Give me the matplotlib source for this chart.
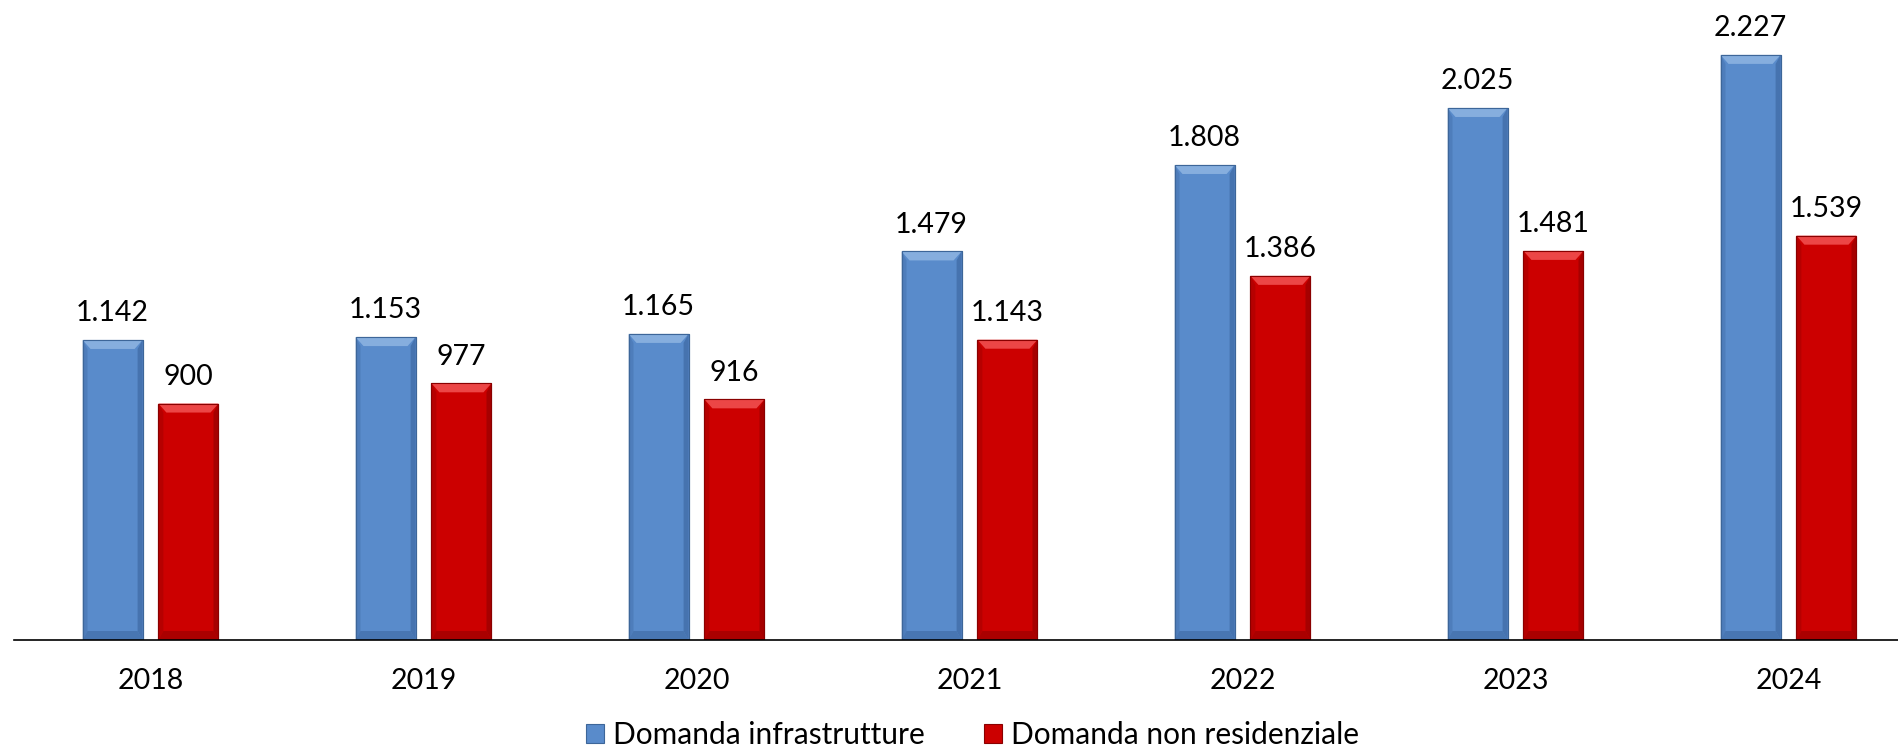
import matplotlib
matplotlib.use("Agg")
import matplotlib.pyplot as plt
from matplotlib.patches import Polygon, Patch
import numpy as np

years = ["2018", "2019", "2020", "2021", "2022", "2023", "2024"]
infrastrutture = [1142, 1153, 1165, 1479, 1808, 2025, 2227]
non_residenziale = [900, 977, 916, 1143, 1386, 1481, 1539]
series_names = ["Domanda infrastrutture", "Domanda non residenziale"]

plt.rcParams["font.family"] = ["Lato", "DejaVu Sans"]

W, H, DPI = 1899, 752, 100
fig = plt.figure(figsize=(W / DPI, H / DPI), dpi=DPI)
ax = fig.add_axes([14 / W, 112 / H, 1911 / W, 640 / H])

x = np.arange(len(years))
width = 0.22
offset = 0.139

blue_face, blue_light, blue_dark, blue_edge = "#598bcb", "#86aede", "#4471ac", "#3d6699"
red_face, red_light, red_dark, red_edge = "#cc0000", "#ec4646", "#a20000", "#8a0000"

bars_b = ax.bar(x - offset, infrastrutture, width, color=blue_face,
                edgecolor=blue_edge, linewidth=0.8, zorder=2)
bars_r = ax.bar(x + offset, non_residenziale, width, color=red_face,
                edgecolor=red_edge, linewidth=0.8, zorder=2)

ax.set_xlim(-0.5, len(years) - 0.5)
ax.set_ylim(0, 2436)

# bevel effect on each bar, sized in pixels
fig.canvas.draw()
inv = ax.transData.inverted()
p0 = inv.transform((0, 0))
p1 = inv.transform((1, 1))
dx_px = p1[0] - p0[0]
dy_px = p1[1] - p0[1]


def bevel(bars, light, dark):
    for b in bars:
        x0, y0 = b.get_x(), b.get_y()
        x1, y1 = x0 + b.get_width(), y0 + b.get_height()
        bx, by = 8 * dx_px, 9 * dy_px
        sx = 5 * dx_px
        top = [(x0, y1), (x1, y1), (x1 - bx, y1 - by), (x0 + bx, y1 - by)]
        left = [(x0, y0), (x0, y1), (x0 + sx, y1 - by), (x0 + sx, y0 + by)]
        right = [(x1, y0), (x1, y1), (x1 - sx, y1 - by), (x1 - sx, y0 + by)]
        bottom = [(x0, y0), (x1, y0), (x1 - sx, y0 + by), (x0 + sx, y0 + by)]
        ax.add_patch(Polygon(top, closed=True, facecolor=light, edgecolor="none", zorder=3))
        ax.add_patch(Polygon(left, closed=True, facecolor=dark, edgecolor="none", alpha=0.5, zorder=3))
        ax.add_patch(Polygon(right, closed=True, facecolor=dark, edgecolor="none", alpha=0.9, zorder=3))
        ax.add_patch(Polygon(bottom, closed=True, facecolor=dark, edgecolor="none", alpha=0.8, zorder=3))
        ax.add_patch(plt.Rectangle((x0, y0), x1 - x0, y1 - y0, fill=False,
                                   edgecolor=b.get_edgecolor(), linewidth=0.8, zorder=4))


bevel(bars_b, blue_light, blue_dark)
bevel(bars_r, red_light, red_dark)


def fmt(v):
    return f"{v:,}".replace(",", ".")


for bars, vals in ((bars_b, infrastrutture), (bars_r, non_residenziale)):
    for b, v in zip(bars, vals):
        ax.annotate(fmt(v), (b.get_x() + b.get_width() / 2, v),
                    xytext=(0, 13.5), textcoords="offset points",
                    ha="center", va="baseline", fontsize=20.5, color="#000000")

ax.set_xticks(x)
ax.set_xticklabels(years, fontsize=20.5)
ax.tick_params(axis="x", length=0, pad=20)
ax.set_yticks([])
for side in ("top", "right", "left"):
    ax.spines[side].set_visible(False)
ax.spines["bottom"].set_color("#000000")
ax.spines["bottom"].set_linewidth(1.2)
ax.spines["bottom"].set_zorder(5)

handles = [Patch(facecolor=blue_face, edgecolor=blue_edge, linewidth=0.8),
           Patch(facecolor=red_face, edgecolor=red_edge, linewidth=0.8)]
fig.legend(handles, series_names, loc="center", bbox_to_anchor=(0.512, 0.0226),
           ncol=2, frameon=False, fontsize=21.5, handlelength=0.6, handleheight=0.6,
           handletextpad=0.3, columnspacing=2.0, borderaxespad=0)

fig.savefig("out.png", dpi=DPI)
